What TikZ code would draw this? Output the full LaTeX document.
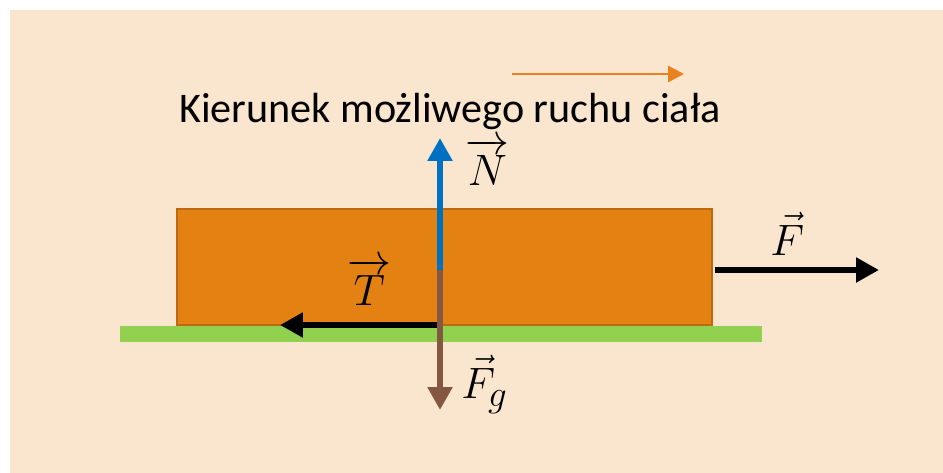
\documentclass[tikz,border=0pt]{standalone}
\usepackage{fix-cm}
\usepackage{amsmath}
\usepackage{fontspec}
\newfontfamily\calibri{Carlito}
\usetikzlibrary{arrows.meta, positioning}
\definecolor{bgpeach}{RGB}{250,230,206}
\definecolor{blockorange}{RGB}{227,130,18}
\definecolor{blockedge}{RGB}{190,105,15}
\definecolor{groundgreen}{RGB}{146,208,80}
\definecolor{normalblue}{RGB}{0,112,192}
\definecolor{weightbrown}{RGB}{133,87,66}
\definecolor{motionorange}{RGB}{232,130,30}
\tikzset{
  force/.style={line width=3.4pt, -{Triangle[width=13.5pt,length=13pt]}},
  flabel/.style={font=\fontsize{25}{30}\selectfont, inner sep=0pt, anchor=base west}
}

\begin{document}
\begin{tikzpicture}[x=0.02cm, y=-0.02cm]
\useasboundingbox (0,0) rectangle (943,473);
% Background
\fill[bgpeach] (10,10) rectangle (943,473);
%
% Ground and block
\node[fill=groundgreen, minimum width=12.84cm, minimum height=0.32cm, inner sep=0pt] (ground) at (441,334) {};
\node[draw=blockedge, line width=1.2pt, fill=blockorange, minimum width=10.7cm, minimum height=2.32cm, inner sep=0pt] (block) at (444.5,267) {};
%
% Direction of possible motion
\coordinate (mstart) at (512,74);
\coordinate (mend) at (684,74);
\draw[motionorange, line width=1.7pt, -{Triangle[width=9pt,length=9pt]}] (mstart) -- (mend);
\node[font=\calibri\fontsize{24}{28}\selectfont, anchor=base, inner sep=0pt] (motion) at (450,123) {Kierunek możliwego ruchu ciała};
%
% Forces
\coordinate (centre) at (440,270);
\coordinate (ntip) at (440,138);
\coordinate (gtip) at (440,410);
\coordinate (tbase) at (440,325);
\coordinate (ttip) at (280,325);
\coordinate (fbase) at (715,270);
\coordinate (ftip) at (879,270);
\draw[force, normalblue] (centre) -- (ntip); % Normal force
\draw[force] (tbase) -- (ttip); % Friction
\draw[force, weightbrown, line width=3.8pt] (centre) -- (gtip); % Weight
\draw[force] (fbase) -- (ftip); % Pulling force
%
% Labels
\node[flabel] (nlab) at (465,185) {$\overrightarrow{N}$};
\node[flabel] (tlab) at (347,305) {$\overrightarrow{T}$};
\node[flabel] (flab) at (770,255) {$\vec{F}$};
\node[flabel] (glab) at (461,398) {$\vec{F}$\kern-4pt\raisebox{-5pt}{\fontsize{21}{24}\selectfont$g$}};
%
\end{tikzpicture}
\end{document}
